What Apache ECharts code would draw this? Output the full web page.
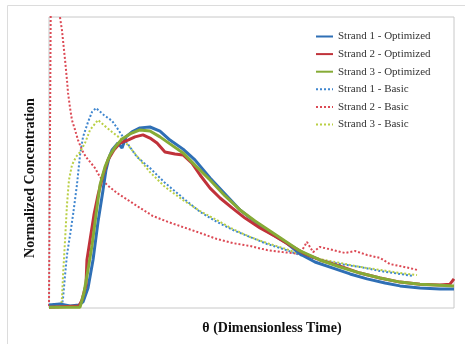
<!DOCTYPE html>
<html>
<head>
<meta charset="utf-8">
<script src="https://cdn.jsdelivr.net/npm/echarts@6/dist/echarts.min.js"></script>
<style>
  html, body { margin: 0; padding: 0; background: #fff; }
  #chart { width: 465px; height: 344px; }
</style>
</head>
<body>
<div id="chart"></div>
<script>
// theta (dimensionless time) vs normalized concentration
var seriesNames = [
  'Strand 1 - Optimized', 'Strand 2 - Optimized', 'Strand 3 - Optimized',
  'Strand 1 - Basic', 'Strand 2 - Basic', 'Strand 3 - Basic'
];

var strand1Optimized = [
  [0, 0.010], [0.081, 0.014], [0.156, 0.007], [0.222, 0.010], [0.252, 0.021],
  [0.289, 0.069], [0.326, 0.165], [0.363, 0.296], [0.400, 0.405], [0.422, 0.474],
  [0.444, 0.515], [0.467, 0.543], [0.511, 0.567], [0.541, 0.550], [0.570, 0.588],
  [0.615, 0.605], [0.674, 0.619], [0.748, 0.622], [0.822, 0.608], [0.896, 0.577],
  [0.993, 0.546], [1.081, 0.509], [1.193, 0.447], [1.304, 0.392], [1.415, 0.337],
  [1.526, 0.296], [1.637, 0.258], [1.748, 0.227], [1.859, 0.186], [1.970, 0.158],
  [2.104, 0.137], [2.230, 0.117], [2.356, 0.100], [2.489, 0.086], [2.600, 0.076],
  [2.748, 0.069], [2.896, 0.065], [3.0, 0.065]
];

var strand2Optimized = [
  [0, 0.003], [0.222, 0.007], [0.244, 0.027], [0.274, 0.079], [0.281, 0.165],
  [0.304, 0.234], [0.333, 0.320], [0.363, 0.388], [0.400, 0.457], [0.437, 0.509],
  [0.481, 0.543], [0.526, 0.567], [0.585, 0.577], [0.637, 0.588], [0.696, 0.595],
  [0.748, 0.584], [0.800, 0.567], [0.859, 0.536], [0.933, 0.529], [0.993, 0.526],
  [1.059, 0.498], [1.119, 0.457], [1.193, 0.412], [1.267, 0.378], [1.356, 0.344],
  [1.452, 0.309], [1.563, 0.275], [1.674, 0.247], [1.785, 0.216], [1.896, 0.186],
  [2.007, 0.165], [2.156, 0.144], [2.304, 0.120], [2.452, 0.103], [2.600, 0.089],
  [2.748, 0.082], [2.896, 0.079], [2.970, 0.082], [3.0, 0.100]
];

var strand3Optimized = [
  [0, 0.003], [0.230, 0.003], [0.259, 0.052], [0.289, 0.131], [0.319, 0.216],
  [0.348, 0.320], [0.378, 0.423], [0.415, 0.485], [0.452, 0.526], [0.496, 0.557],
  [0.541, 0.581], [0.600, 0.598], [0.674, 0.612], [0.748, 0.608], [0.822, 0.588],
  [0.896, 0.564], [0.993, 0.533], [1.081, 0.491], [1.193, 0.440], [1.304, 0.385],
  [1.415, 0.337], [1.526, 0.299], [1.637, 0.265], [1.748, 0.230], [1.859, 0.196],
  [2.007, 0.165], [2.156, 0.141], [2.304, 0.120], [2.452, 0.103], [2.600, 0.089],
  [2.748, 0.082], [3.0, 0.076]
];

var strand1Basic = [
  [0, 0.010], [0.044, 0.014], [0.096, 0.010], [0.104, 0.034], [0.119, 0.113],
  [0.133, 0.182], [0.156, 0.251], [0.178, 0.320], [0.207, 0.423], [0.230, 0.526],
  [0.252, 0.588], [0.289, 0.639], [0.319, 0.674], [0.348, 0.687], [0.407, 0.663],
  [0.467, 0.643], [0.504, 0.619], [0.563, 0.577], [0.652, 0.519], [0.748, 0.481],
  [0.859, 0.430], [0.993, 0.378], [1.119, 0.330], [1.244, 0.296], [1.363, 0.268],
  [1.489, 0.244], [1.615, 0.220], [1.733, 0.203], [1.859, 0.182], [2.007, 0.165],
  [2.156, 0.151], [2.304, 0.141], [2.452, 0.127], [2.600, 0.117], [2.696, 0.110]
];

var strand2Basic = [
  [0, 0.007], [0.007, 0.007], [0.015, 1.2], [0.022, 1.3], [0.052, 1.3],
  [0.074, 1.2], [0.081, 1.0], [0.096, 0.955], [0.111, 0.887], [0.119, 0.852],
  [0.133, 0.784], [0.141, 0.739], [0.156, 0.687], [0.170, 0.646], [0.193, 0.612],
  [0.215, 0.577], [0.244, 0.543], [0.274, 0.519], [0.304, 0.502], [0.341, 0.481],
  [0.378, 0.450], [0.430, 0.423], [0.504, 0.395], [0.585, 0.371], [0.674, 0.344],
  [0.770, 0.316], [0.881, 0.296], [0.993, 0.278], [1.119, 0.258], [1.244, 0.237],
  [1.363, 0.223], [1.489, 0.213], [1.615, 0.199], [1.733, 0.192], [1.859, 0.186],
  [1.911, 0.227], [1.956, 0.192], [2.007, 0.210], [2.104, 0.199], [2.193, 0.189],
  [2.267, 0.196], [2.356, 0.182], [2.452, 0.172], [2.526, 0.151], [2.600, 0.144],
  [2.674, 0.137], [2.726, 0.131]
];

var strand3Basic = [
  [0, 0.003], [0.089, 0.003], [0.096, 0.034], [0.104, 0.113], [0.119, 0.234],
  [0.133, 0.354], [0.148, 0.440], [0.170, 0.491], [0.200, 0.519], [0.230, 0.536],
  [0.267, 0.567], [0.304, 0.612], [0.363, 0.646], [0.415, 0.625], [0.467, 0.605],
  [0.526, 0.584], [0.585, 0.560], [0.674, 0.509], [0.748, 0.467], [0.859, 0.416],
  [0.993, 0.371], [1.119, 0.333], [1.244, 0.302], [1.363, 0.271], [1.489, 0.244],
  [1.615, 0.223], [1.733, 0.206], [1.859, 0.186], [2.007, 0.168], [2.156, 0.155],
  [2.304, 0.141], [2.452, 0.131], [2.600, 0.120], [2.726, 0.113]
];

var seriesData = [strand1Optimized, strand2Optimized, strand3Optimized,
  strand1Basic, strand2Basic, strand3Basic];
var colors = ['#2f6fb5', '#c0323a', '#86ab36', '#3f86cf', '#dc4a55', '#b9cf45'];

var chartDom = document.getElementById('chart');
var myChart = echarts.init(chartDom);
var option;

var series = seriesData.map(function (d, i) {
  var basic = i >= 3;
  return {
    name: seriesNames[i],
    type: 'line',
    data: d,
    symbol: 'none',
    clip: true,
    z: basic ? 2 : 3,
    lineStyle: {
      color: colors[i],
      width: basic ? 2 : 3,
      type: basic ? [2, 2] : 'solid'
    },
    itemStyle: { color: colors[i] }
  };
});

option = {
  animation: false,
  backgroundColor: '#fff',
  grid: {
    left: 49, top: 17, width: 405, height: 291,
    show: true, borderColor: '#c8c8c8', borderWidth: 1, backgroundColor: '#fff'
  },
  xAxis: {
    type: 'value', min: 0, max: 3,
    axisLine: { show: false }, axisTick: { show: false },
    axisLabel: { show: false }, splitLine: { show: false }
  },
  yAxis: {
    type: 'value', min: 0, max: 1,
    axisLine: { show: false }, axisTick: { show: false },
    axisLabel: { show: false }, splitLine: { show: false }
  },
  legend: {
    orient: 'vertical',
    left: 315, top: 31, padding: 0,
    itemWidth: 17, itemHeight: 10, itemGap: 6.6,
    data: seriesNames,
    itemStyle: { opacity: 0 },
    textStyle: { fontFamily: 'Liberation Serif', fontSize: 11, color: '#333' }
  },
  graphic: [
    {
      type: 'rect', silent: true, z: -10,
      shape: { x: 7.5, y: 5.5, width: 480, height: 360 },
      style: { fill: 'none', stroke: '#dcdcdc', lineWidth: 1 }
    },
    {
      type: 'text', silent: true,
      x: 30, y: 178, rotation: Math.PI / 2,
      style: {
        text: 'Normalized Concentration', x: 0, y: 0,
        fontFamily: 'Liberation Serif', fontSize: 14, fontWeight: 'bold',
        fill: '#111', align: 'center', verticalAlign: 'middle'
      }
    },
    {
      type: 'text', silent: true,
      x: 272, y: 328,
      style: {
        text: 'θ (Dimensionless Time)', x: 0, y: 0,
        fontFamily: 'Liberation Serif', fontSize: 14, fontWeight: 'bold',
        fill: '#111', align: 'center', verticalAlign: 'middle'
      }
    }
  ],
  series: series
};

option && myChart.setOption(option);
</script>
</body>
</html>
